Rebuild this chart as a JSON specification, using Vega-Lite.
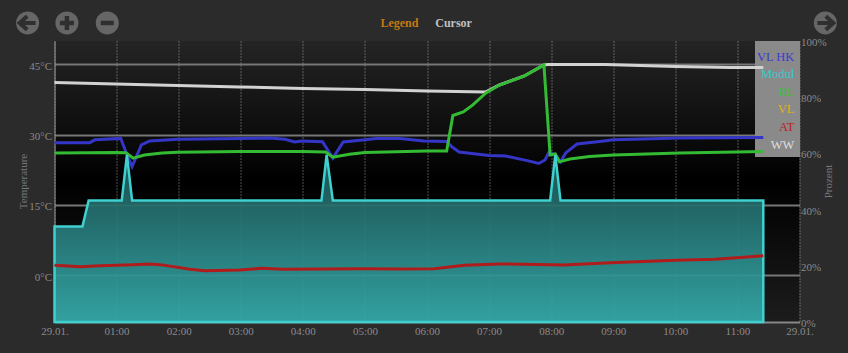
{
"$schema":"https://vega.github.io/schema/vega-lite/v6.json",
"width":745,"height":281,
"autosize":{"type":"none"},
"padding":{"left":54.5,"top":41,"right":48.5,"bottom":31},
"background":"#2b2b2b",
"view":{"stroke":null,"fill":{"gradient":"linear","x1":0,"y1":0,"x2":0,"y2":1,"stops":[{"offset":0,"color":"#242424"},{"offset":0.5,"color":"#000000"},{"offset":1,"color":"#1c1c1c"}]}},
"config":{"font":"Liberation Serif"},
"data":{"values":[
{"t":"2024-01-29T00:00","s":"WW","v":41.15},{"t":"2024-01-29T00:59","s":"WW","v":40.83},{"t":"2024-01-29T01:59","s":"WW","v":40.51},{"t":"2024-01-29T02:59","s":"WW","v":40.19},{"t":"2024-01-29T04:00","s":"WW","v":39.87},{"t":"2024-01-29T05:00","s":"WW","v":39.65},{"t":"2024-01-29T06:00","s":"WW","v":39.33},{"t":"2024-01-29T06:57","s":"WW","v":39.12},{"t":"2024-01-29T07:10","s":"WW","v":40.61},{"t":"2024-01-29T07:34","s":"WW","v":42.54},{"t":"2024-01-29T07:53","s":"WW","v":44.9},{"t":"2024-01-29T07:57","s":"WW","v":45.0},{"t":"2024-01-29T08:52","s":"WW","v":45.0},{"t":"2024-01-29T10:00","s":"WW","v":44.56},{"t":"2024-01-29T10:53","s":"WW","v":44.35},{"t":"2024-01-29T11:25","s":"WW","v":44.35},
{"t":"2024-01-29T00:00","s":"RL","v":26.1},{"t":"2024-01-29T00:59","s":"RL","v":26.2},{"t":"2024-01-29T01:09","s":"RL","v":26.16},{"t":"2024-01-29T01:16","s":"RL","v":25.0},{"t":"2024-01-29T01:27","s":"RL","v":25.67},{"t":"2024-01-29T01:44","s":"RL","v":26.1},{"t":"2024-01-29T01:59","s":"RL","v":26.24},{"t":"2024-01-29T02:59","s":"RL","v":26.4},{"t":"2024-01-29T04:00","s":"RL","v":26.4},{"t":"2024-01-29T04:22","s":"RL","v":26.3},{"t":"2024-01-29T04:29","s":"RL","v":25.2},{"t":"2024-01-29T04:45","s":"RL","v":25.8},{"t":"2024-01-29T05:00","s":"RL","v":26.2},{"t":"2024-01-29T06:00","s":"RL","v":26.5},{"t":"2024-01-29T06:19","s":"RL","v":26.5},{"t":"2024-01-29T06:25","s":"RL","v":34.1},{"t":"2024-01-29T06:35","s":"RL","v":34.85},{"t":"2024-01-29T06:44","s":"RL","v":36.3},{"t":"2024-01-29T06:57","s":"RL","v":38.9},{"t":"2024-01-29T07:10","s":"RL","v":40.6},{"t":"2024-01-29T07:34","s":"RL","v":42.5},{"t":"2024-01-29T07:53","s":"RL","v":44.9},{"t":"2024-01-29T07:59","s":"RL","v":25.67},{"t":"2024-01-29T08:04","s":"RL","v":25.9},{"t":"2024-01-29T08:08","s":"RL","v":24.2},{"t":"2024-01-29T08:18","s":"RL","v":24.8},{"t":"2024-01-29T08:37","s":"RL","v":25.35},{"t":"2024-01-29T09:00","s":"RL","v":25.67},{"t":"2024-01-29T10:04","s":"RL","v":26.1},{"t":"2024-01-29T11:25","s":"RL","v":26.4},
{"t":"2024-01-29T00:00","s":"VL HK","v":28.3},{"t":"2024-01-29T00:34","s":"VL HK","v":28.3},{"t":"2024-01-29T00:39","s":"VL HK","v":28.9},{"t":"2024-01-29T01:04","s":"VL HK","v":29.2},{"t":"2024-01-29T01:09","s":"VL HK","v":26.3},{"t":"2024-01-29T01:15","s":"VL HK","v":23.2},{"t":"2024-01-29T01:24","s":"VL HK","v":27.8},{"t":"2024-01-29T01:32","s":"VL HK","v":28.65},{"t":"2024-01-29T01:59","s":"VL HK","v":29.0},{"t":"2024-01-29T02:59","s":"VL HK","v":29.2},{"t":"2024-01-29T03:28","s":"VL HK","v":29.3},{"t":"2024-01-29T03:43","s":"VL HK","v":29.0},{"t":"2024-01-29T03:52","s":"VL HK","v":28.45},{"t":"2024-01-29T03:59","s":"VL HK","v":28.65},{"t":"2024-01-29T04:19","s":"VL HK","v":28.5},{"t":"2024-01-29T04:29","s":"VL HK","v":25.0},{"t":"2024-01-29T04:39","s":"VL HK","v":28.45},{"t":"2024-01-29T05:00","s":"VL HK","v":28.9},{"t":"2024-01-29T05:11","s":"VL HK","v":29.2},{"t":"2024-01-29T05:34","s":"VL HK","v":29.2},{"t":"2024-01-29T05:57","s":"VL HK","v":28.65},{"t":"2024-01-29T06:19","s":"VL HK","v":28.55},{"t":"2024-01-29T06:24","s":"VL HK","v":27.4},{"t":"2024-01-29T06:31","s":"VL HK","v":26.3},{"t":"2024-01-29T07:00","s":"VL HK","v":25.55},{"t":"2024-01-29T07:16","s":"VL HK","v":25.45},{"t":"2024-01-29T07:38","s":"VL HK","v":24.4},{"t":"2024-01-29T07:48","s":"VL HK","v":23.85},{"t":"2024-01-29T07:54","s":"VL HK","v":24.6},{"t":"2024-01-29T07:58","s":"VL HK","v":26.3},{"t":"2024-01-29T08:04","s":"VL HK","v":25.67},{"t":"2024-01-29T08:09","s":"VL HK","v":24.2},{"t":"2024-01-29T08:14","s":"VL HK","v":26.1},{"t":"2024-01-29T08:25","s":"VL HK","v":28.0},{"t":"2024-01-29T08:47","s":"VL HK","v":28.55},{"t":"2024-01-29T09:00","s":"VL HK","v":28.9},{"t":"2024-01-29T10:04","s":"VL HK","v":29.3},{"t":"2024-01-29T11:25","s":"VL HK","v":29.4},
{"t":"2024-01-29T00:00","s":"AT","v":2.1},{"t":"2024-01-29T00:25","s":"AT","v":1.8},{"t":"2024-01-29T00:44","s":"AT","v":2.0},{"t":"2024-01-29T01:16","s":"AT","v":2.25},{"t":"2024-01-29T01:32","s":"AT","v":2.4},{"t":"2024-01-29T01:42","s":"AT","v":2.25},{"t":"2024-01-29T02:11","s":"AT","v":1.25},{"t":"2024-01-29T02:25","s":"AT","v":0.96},{"t":"2024-01-29T02:59","s":"AT","v":1.1},{"t":"2024-01-29T03:20","s":"AT","v":1.47},{"t":"2024-01-29T03:41","s":"AT","v":1.26},{"t":"2024-01-29T05:00","s":"AT","v":1.39},{"t":"2024-01-29T05:34","s":"AT","v":1.3},{"t":"2024-01-29T06:07","s":"AT","v":1.39},{"t":"2024-01-29T06:36","s":"AT","v":2.1},{"t":"2024-01-29T07:10","s":"AT","v":2.4},{"t":"2024-01-29T08:00","s":"AT","v":2.24},{"t":"2024-01-29T08:12","s":"AT","v":2.18},{"t":"2024-01-29T08:57","s":"AT","v":2.67},{"t":"2024-01-29T10:00","s":"AT","v":3.18},{"t":"2024-01-29T10:38","s":"AT","v":3.4},{"t":"2024-01-29T10:59","s":"AT","v":3.74},{"t":"2024-01-29T11:25","s":"AT","v":4.16},
{"t":"2024-01-29T00:00","s":"Modul","v":34},{"t":"2024-01-29T00:27","s":"Modul","v":34},{"t":"2024-01-29T00:33","s":"Modul","v":43.2},{"t":"2024-01-29T01:05","s":"Modul","v":43.2},{"t":"2024-01-29T01:10","s":"Modul","v":59.5},{"t":"2024-01-29T01:15","s":"Modul","v":43.2},{"t":"2024-01-29T04:18","s":"Modul","v":43.2},{"t":"2024-01-29T04:23","s":"Modul","v":59.5},{"t":"2024-01-29T04:29","s":"Modul","v":43.2},{"t":"2024-01-29T07:59","s":"Modul","v":43.2},{"t":"2024-01-29T08:04","s":"Modul","v":59.5},{"t":"2024-01-29T08:09","s":"Modul","v":43.2},{"t":"2024-01-29T11:25","s":"Modul","v":43.2}
]},
"encoding":{
"x":{"field":"t","type":"temporal","title":null,
"scale":{"domain":[{"year":2024,"month":1,"date":29,"hours":0},{"year":2024,"month":1,"date":29,"hours":12}]},
"axis":{"values":[{"year":2024,"month":1,"date":29,"hours":0},{"year":2024,"month":1,"date":29,"hours":1},{"year":2024,"month":1,"date":29,"hours":2},{"year":2024,"month":1,"date":29,"hours":3},{"year":2024,"month":1,"date":29,"hours":4},{"year":2024,"month":1,"date":29,"hours":5},{"year":2024,"month":1,"date":29,"hours":6},{"year":2024,"month":1,"date":29,"hours":7},{"year":2024,"month":1,"date":29,"hours":8},{"year":2024,"month":1,"date":29,"hours":9},{"year":2024,"month":1,"date":29,"hours":10},{"year":2024,"month":1,"date":29,"hours":11},{"year":2024,"month":1,"date":29,"hours":12}],
"format":"%H:%M","labelExpr":"hours(datum.value)%12==0?'29.01.':datum.label","labelFont":"Liberation Serif","labelFontSize":11,"labelColor":"#8a8a8a","labelPadding":3,"labelBound":false,"labelFlush":false,"labelOverlap":false,"ticks":false,"domain":true,"domainColor":"#888888","domainWidth":2,
"grid":true,"gridColor":"#bbbbbb","gridDash":[1,2],"gridWidth":1,"gridOpacity":0.85}}
},
"layer":[
{"layer":[
{"mark":{"type":"rect","fill":"#8a8a8a","opacity":0.95},"encoding":{"x":{"datum":{"year":2024,"month":1,"date":29,"hours":11,"minutes":17}},"x2":{"datum":{"year":2024,"month":1,"date":29,"hours":12}},"y":{"datum":50,"type":"quantitative"},"y2":{"datum":25.24}}},
{"transform":[{"filter":"datum.s=='WW'"}],"mark":{"type":"line","stroke":"#d2d2d2","strokeWidth":3},"encoding":{"y":{"field":"v","type":"quantitative"}}},
{"transform":[{"filter":"datum.s=='VL HK'"}],"mark":{"type":"line","stroke":"#3535c8","strokeWidth":3},"encoding":{"y":{"field":"v","type":"quantitative"}}},
{"transform":[{"filter":"datum.s=='RL'"}],"mark":{"type":"line","stroke":"#33bb33","strokeWidth":3},"encoding":{"y":{"field":"v","type":"quantitative"}}}
],
"encoding":{"y":{"field":"v","type":"quantitative","title":"Temperature","scale":{"domain":[-10,50]},
"axis":{"values":[0,15,30,45],"format":"d","labelExpr":"datum.value+'°C'","labelFont":"Liberation Serif","labelFontSize":11,"labelColor":"#8a8a8a","labelOffset":2,"labelPadding":3,"labelBound":false,"ticks":false,"domain":true,"domainColor":"#999999","domainWidth":1,"grid":true,"gridColor":"#777777","gridWidth":2,"titleFont":"Liberation Serif","titleFontSize":11,"titleFontWeight":"normal","titleColor":"#777777","titleX":-26,"titleY":140}}}
},
{"transform":[{"filter":"datum.s=='Modul'"}],
"mark":{"type":"area","stroke":"#3fd0d0","strokeWidth":2.5,"fillOpacity":0.92,"fill":{"gradient":"linear","x1":0,"y1":0,"x2":0,"y2":1,"stops":[{"offset":0,"color":"#1f5f60"},{"offset":0.25,"color":"#236868"},{"offset":1,"color":"#34acac"}]}},
"encoding":{"y":{"field":"v","type":"quantitative","title":"Prozent","scale":{"domain":[0,100]},
"axis":{"orient":"right","values":[0,20,40,60,80,100],"labelExpr":"datum.value+'%'","labelFont":"Liberation Serif","labelFontSize":11,"labelColor":"#8a8a8a","labelOffset":1.5,"labelPadding":1,"labelBound":false,"ticks":false,"domain":false,"grid":false,"titleFont":"Liberation Serif","titleFontSize":11,"titleFontWeight":"normal","titleColor":"#777777","titleAngle":270,"titleX":34,"titleY":140}}}
},
{"layer":[
{"transform":[{"filter":"datum.s=='AT'"}],"mark":{"type":"line","stroke":"#b01c1c","strokeWidth":3},"encoding":{"y":{"field":"v","type":"quantitative"}}},
{"data":{"values":[{"label":"VL HK","t":"2024-01-29T11:55","v":46.6},{"label":"Modul","t":"2024-01-29T11:55","v":42.96},{"label":"RL","t":"2024-01-29T11:55","v":39.2},{"label":"VL","t":"2024-01-29T11:55","v":35.5},{"label":"AT","t":"2024-01-29T11:55","v":31.65},{"label":"WW","t":"2024-01-29T11:55","v":27.8}]},
"mark":{"type":"text","align":"right","baseline":"middle","font":"Liberation Serif","fontSize":12.5},
"encoding":{"y":{"field":"v","type":"quantitative"},"text":{"field":"label"},"color":{"field":"label","legend":null,"scale":{"domain":["VL HK","Modul","RL","VL","AT","WW"],"range":["#3a3ad0","#33cccc","#44bb44","#e0b020","#c01c1c","#dddddd"]}}}},
{"data":{"values":[{"label":"Legend","t":"2024-01-29T05:15","v":53.85}]},"mark":{"type":"text","align":"left","baseline":"middle","font":"Liberation Serif","fontSize":12,"fontWeight":"bold","fill":"#c07a10"},"encoding":{"y":{"field":"v","type":"quantitative"},"text":{"field":"label"}}},
{"data":{"values":[{"label":"Cursor","t":"2024-01-29T06:08","v":53.85}]},"mark":{"type":"text","align":"left","baseline":"middle","font":"Liberation Serif","fontSize":12,"fontWeight":"bold","fill":"#c0c0c0"},"encoding":{"y":{"field":"v","type":"quantitative"},"text":{"field":"label"}}},
{"data":{"values":[{"button":"back","t":"2024-01-28T23:34","v":53.85},{"button":"in","t":"2024-01-29T00:12","v":53.85},{"button":"out","t":"2024-01-29T00:51","v":53.85},{"button":"forward","t":"2024-01-29T12:25","v":53.85}]},"mark":{"type":"point","shape":"circle","filled":true,"fill":"#666666","opacity":1,"size":531,"stroke":null},"encoding":{"y":{"field":"v","type":"quantitative"}}},
{"data":{"values":[{"button":"back","t":"2024-01-28T23:34","v":53.85}]},"mark":{"type":"point","shape":"M-1,0L1,0M-0.05,-0.85L-1,0L-0.05,0.85","size":256,"filled":false,"stroke":"#2f2f2f","strokeWidth":4,"opacity":1},"encoding":{"y":{"field":"v","type":"quantitative"}}},
{"data":{"values":[{"button":"in","t":"2024-01-29T00:12","v":53.85}]},"mark":{"type":"point","shape":"M-1,0L1,0M0,-1L0,1","size":196,"filled":false,"stroke":"#2f2f2f","strokeWidth":4.5,"opacity":1},"encoding":{"y":{"field":"v","type":"quantitative"}}},
{"data":{"values":[{"button":"out","t":"2024-01-29T00:51","v":53.85}]},"mark":{"type":"point","shape":"M-1,0L1,0","size":169,"filled":false,"stroke":"#2f2f2f","strokeWidth":4.5,"opacity":1},"encoding":{"y":{"field":"v","type":"quantitative"}}},
{"data":{"values":[{"button":"forward","t":"2024-01-29T12:25","v":53.85}]},"mark":{"type":"point","shape":"M-1,0L1,0M0.05,-0.85L1,0L0.05,0.85","size":256,"filled":false,"stroke":"#2f2f2f","strokeWidth":4,"opacity":1},"encoding":{"y":{"field":"v","type":"quantitative"}}}
],
"encoding":{"y":{"field":"v","type":"quantitative","title":null,"scale":{"domain":[-10,50]},"axis":null}}
}
],
"resolve":{"scale":{"y":"independent"},"axis":{"y":"independent"}}
}
